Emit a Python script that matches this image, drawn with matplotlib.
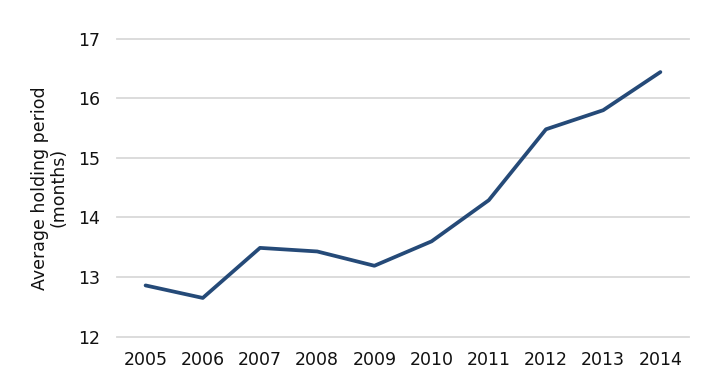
import matplotlib
matplotlib.use("Agg")
import matplotlib.pyplot as plt

years = ["2005", "2006", "2007", "2008", "2009", "2010", "2011", "2012", "2013", "2014"]
values = [12.86, 12.65, 13.49, 13.43, 13.19, 13.60, 14.29, 15.48, 15.80, 16.44]
yticks = [12, 13, 14, 15, 16, 17]

plt.rcParams['font.family'] = ['DejaVu Sans']
fig = plt.figure(figsize=(7.28, 3.92), dpi=100)
ax = fig.add_axes([0.1607, 0.1411, 0.7857, 0.7602])
x = list(range(len(years)))
ax.plot(x, values, color="#254A78", linewidth=2.7, solid_capstyle="round", zorder=3)
ax.set_xlim(-0.5, len(years) - 0.5)
ax.set_ylim(12, 17)
ax.set_yticks(yticks)
ax.set_yticklabels([str(t) for t in yticks])
ax.set_xticks(x)
ax.set_xticklabels(years)
ax.grid(axis="y", color="#D9D9D9", linewidth=1.3, zorder=0)
for gl in ax.get_ygridlines():
    gl.set_clip_on(False)
ax.set_axisbelow(True)
for s in ax.spines.values():
    s.set_visible(False)
ax.tick_params(axis="both", length=0, labelsize=12.5, colors="#111111")
ax.tick_params(axis="y", pad=12)
ax.tick_params(axis="x", pad=10)
ax.set_ylabel("Average holding period\n(months)", fontsize=12.5, color="#111111", labelpad=8, linespacing=1.0)
fig.savefig("out.png", dpi=100, facecolor="white")
